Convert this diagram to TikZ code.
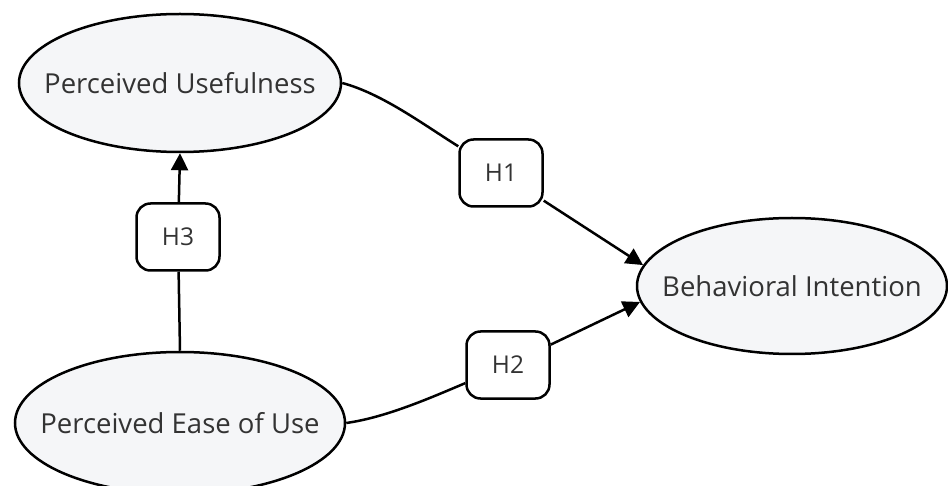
\documentclass[tikz,border=0pt]{standalone}
\usepackage{fontspec}
\setmainfont{Open Sans}
\usetikzlibrary{shapes.geometric,arrows.meta}
\definecolor{nodefill}{HTML}{F5F6F8}
\definecolor{labeltext}{HTML}{333333}
\tikzset{
  construct/.style={ellipse, draw=black, line width=2.5pt, fill=nodefill,
    inner sep=0pt},
  constructname/.style={text=labeltext, font=\fontsize{27.5}{32}\selectfont},
  hyp/.style={rectangle, rounded corners=14pt, draw=black, line width=2.5pt,
    fill=white, minimum width=83pt, minimum height=67pt, inner sep=0pt,
    text=labeltext, font=\fontsize{24.5}{28}\selectfont},
  path/.style={line width=2.5pt, draw=black},
  tip/.style={-{Triangle[length=17pt,width=17pt]}}
}
\begin{document}
\begin{tikzpicture}[x=1pt,y=-1pt]
  \useasboundingbox (0,0) rectangle (948,486);
  % latent constructs (fixed-size ellipses, name centred inside)
  \node[construct, minimum width=322pt, minimum height=138pt,
    label={[constructname]center:Perceived Usefulness}] (pu) at (180,83) {};
  \node[construct, minimum width=330pt, minimum height=142pt,
    label={[constructname]center:Perceived Ease of Use}] (peu) at (180,423) {};
  \node[construct, minimum width=310pt, minimum height=136pt,
    label={[constructname]center:Behavioral Intention}] (bi) at (792,286) {};
  % hypothesis labels
  \node[hyp] (h1) at (501,173) {H1};
  \node[hyp] (h2) at (508,365) {H2};
  \node[hyp] (h3) at (178,237) {H3};
  % paths
  \draw[path] (pu.east) to[out=-15, in=148, looseness=0.8] (h1);
  \draw[path, tip] (h1) -- (bi.172);
  \draw[path] (peu.east) to[out=8, in=203, looseness=0.8] (h2);
  \draw[path, tip] (h2) -- (bi.186);
  \draw[path] (peu.north) -- (h3);
  \draw[path, tip] (h3) -- (pu.south);
\end{tikzpicture}
\end{document}
